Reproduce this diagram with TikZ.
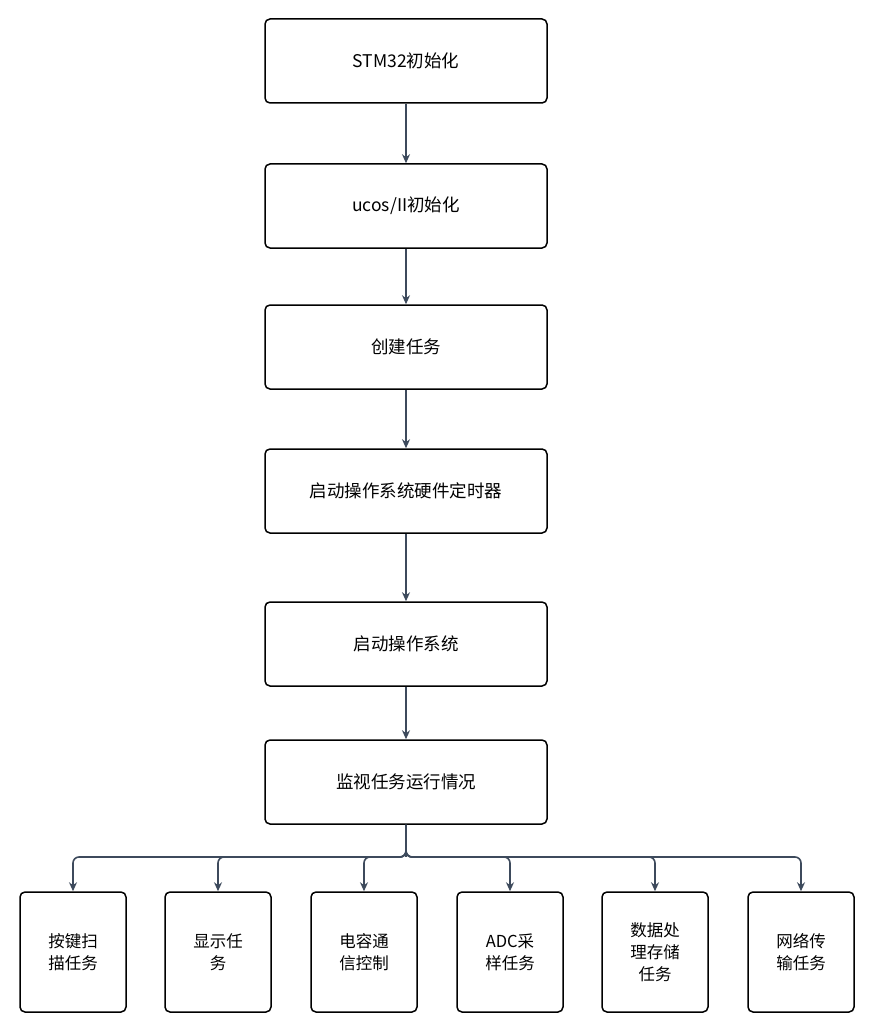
\documentclass[tikz,border=0pt]{standalone}
\usepackage{fontspec}
\setmainfont{Noto Sans CJK SC}
\usetikzlibrary{arrows.meta, positioning}
\tikzset{>={Stealth[length=9pt,width=8pt]}}
\definecolor{linec}{HTML}{3D4A5C}

\begin{document}
\begin{tikzpicture}[x=1pt, y=-1pt,
  stepbox/.style={draw, line width=1.5pt, rounded corners=5pt, minimum width=282pt, minimum height=84pt, font=\fontsize{17.5}{20}\selectfont},
  taskbox/.style={draw, line width=1.5pt, rounded corners=5pt, minimum width=106pt, minimum height=120pt, text width=80pt, align=center, font=\fontsize{16.5}{22}\selectfont},
  link/.style={->, line width=1.6pt, linec}]
\useasboundingbox (0,0) rectangle (874,1032);

% --- main chain ---
\node[stepbox] (init) at (406,61) {STM32初始化};
\node[stepbox] (ucos) at (406,206) {ucos/II初始化};
\node[stepbox] (create) at (406,347) {创建任务};
\node[stepbox] (timer) at (406,491) {启动操作系统硬件定时器};
\node[stepbox] (start) at (406,644) {启动操作系统};
\node[stepbox] (watch) at (406,782) {监视任务运行情况};

\draw[link] (init) -- (ucos);
\draw[link] (ucos) -- (create);
\draw[link] (create) -- (timer);
\draw[link] (timer) -- (start);
\draw[link] (start) -- (watch);

% --- tasks ---
\node[taskbox] (key) at (73,952) {按键扫\\描任务};
\node[taskbox] (disp) at (218,952) {显示任\\务};
\node[taskbox] (cap) at (364,952) {电容通\\信控制};
\node[taskbox] (adc) at (510,952) {ADC采\\样任务};
\node[taskbox] (data) at (655,952) {数据处\\理存储\\任务};
\node[taskbox] (net) at (801,952) {网络传\\输任务};

\coordinate (fork) at (406,857);
\draw[line width=1.6pt, linec] (watch.south) -- (fork);
\foreach \t in {key, disp, cap, adc, data, net}
  \draw[link, rounded corners=6pt] (watch.south) |- (\t.north |- fork) -- (\t.north);

\end{tikzpicture}
\end{document}
